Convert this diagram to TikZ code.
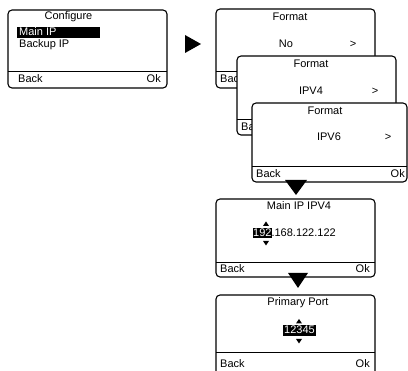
\documentclass[tikz,border=0pt]{standalone}
\usepackage{fontspec}
\setmainfont{Liberation Sans}
\begin{document}
\begin{tikzpicture}[x=1pt,y=-1pt,
  screen/.style={draw, line width=1.1pt, rounded corners=4pt, fill=white},
  divline/.style={line width=1pt},
  txt/.style={inner sep=0pt, font=\fontsize{11}{13}\selectfont, text height=8pt, text depth=2pt},
  hl/.style={txt, fill=black, text=white},
  bigtri/.style={fill=black},
  smalltri/.style={fill=black}]
\useasboundingbox (0,0) rectangle (408,371);

% Screen 1: Configure
\draw[screen] (8,10) rectangle (167,88);
\draw[divline] (8,72) -- (167,72);
\node[txt] (t1) at (68.5,17) {Configure};
\fill (17,27) rectangle (100,38);
\node[txt, text=white, anchor=west] (m1) at (19,32.5) {Main IP};
\node[txt, anchor=west] (b1) at (19,45) {Backup IP};
\node[txt, anchor=west] (bk1) at (18,80) {Back};
\node[txt, anchor=east] (ok1) at (161,80) {Ok};

% right arrow
\fill[bigtri] (185,35) -- (185,53) -- (201,44) -- cycle;

% Screen 2: Format No
\draw[screen] (216,9) rectangle (375,88);
\draw[divline] (216,72) -- (375,72);
\node[txt] (t2) at (290,18) {Format};
\node[txt] (v2) at (286,45) {No};
\node[txt] (g2) at (353,45) {>};
\node[txt, anchor=west] (bk2) at (220,80) {Back};

% Screen 3: Format IPV4
\draw[screen] (237,56) rectangle (396,135);
\draw[divline] (237,120) -- (396,120);
\node[txt] (t3) at (311,65) {Format};
\node[txt] (v3) at (311,92) {IPV4};
\node[txt] (g3) at (375,92) {>};
\node[txt, anchor=west] (bk3) at (241,128) {Back};

% Screen 4: Format IPV6
\draw[screen] (252,103) rectangle (407,182);
\draw[divline] (252,167) -- (407,167);
\node[txt] (t4) at (325,112) {Format};
\node[txt] (v4) at (329,138) {IPV6};
\node[txt] (g4) at (388,138) {>};
\node[txt, anchor=west] (bk4) at (256,174.5) {Back};
\node[txt, anchor=east] (ok4) at (405,174.5) {Ok};

% down arrow 1
\fill[bigtri] (285,180) -- (307,180) -- (296,195) -- cycle;

% Screen 5: Main IP IPV4
\draw[screen] (216,199) rectangle (375,277);
\draw[divline] (216,263) -- (375,263);
\node[txt] (t5) at (299,207) {Main IP IPV4};
\fill (252.5,228.5) rectangle (271.8,238.5);
\node[txt, anchor=west] (ip5) at (253,233.5) {\textcolor{white}{192}.168.122.122};
\fill[smalltri] (263,226) -- (269,226) -- (266,221.5) -- cycle;
\fill[smalltri] (263,241) -- (269,241) -- (266,245.5) -- cycle;
\node[txt, anchor=west] (bk5) at (220,270) {Back};
\node[txt, anchor=east] (ok5) at (370,270) {Ok};

% down arrow 2
\fill[bigtri] (288,273) -- (308,273) -- (298,288) -- cycle;

% Screen 6: Primary Port
\draw[screen] (216,295) rectangle (375,385);
\draw[divline] (216,353) -- (375,353);
\node[txt] (t6) at (298,303) {Primary Port};
\node[hl, inner xsep=1pt, inner ysep=0.5pt] (p6) at (299.5,331) {12345};
\fill[smalltri] (296,323.5) -- (302,323.5) -- (299,319) -- cycle;
\fill[smalltri] (296,339) -- (302,339) -- (299,343.5) -- cycle;
\node[txt, anchor=west] (bk6) at (220,365) {Back};
\node[txt, anchor=east] (ok6) at (370,365) {Ok};
\end{tikzpicture}
\end{document}
